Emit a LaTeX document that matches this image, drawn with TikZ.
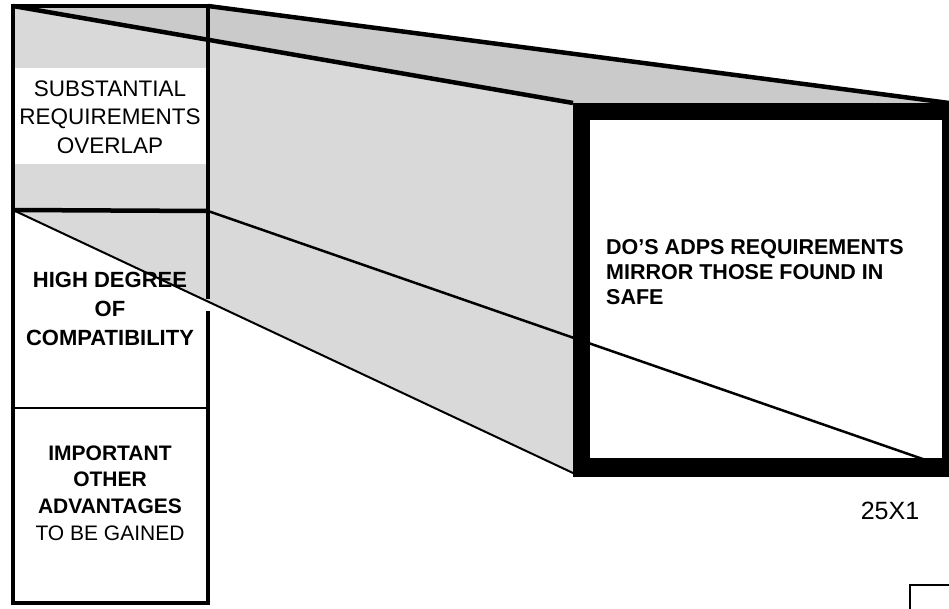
\documentclass[tikz,border=0pt]{standalone}
\usepackage{fontspec}
\setmainfont{Liberation Sans}
\usetikzlibrary{positioning,calc}
\definecolor{dotgrey}{HTML}{D9D9D9}
\definecolor{dotdark}{HTML}{CACACA}

\begin{document}
\begin{tikzpicture}[x=1pt,y=-1pt,
  every node/.style={inner sep=0pt},
  colline/.style={line width=3.5pt,line cap=rect},
  heavyline/.style={line width=4.5pt},
  thinline/.style={line width=2pt},
  halftone/.style={fill=dotgrey},
  plaintxt/.style={align=center,font=\fontsize{22.5}{28.5}\selectfont},
  boldtxt/.style={align=center,font=\fontsize{22}{29}\selectfont\bfseries}]
\useasboundingbox (0,0) rectangle (949,609);
% corners of the left column
\coordinate (ltl) at (13,6);
\coordinate (ltr) at (208,6);
\coordinate (lbl) at (13,210);
\coordinate (lbr) at (208,211);
\coordinate (gapt) at (208,297);
\coordinate (gapb) at (208,313);
% corners of the big box
\coordinate (rtl) at (573,103);
\coordinate (rtr) at (949,103);
\coordinate (rbl) at (573,473);
\coordinate (rbr) at (940,465);

% projection band
\fill[halftone] (ltl) -- (ltr) -- (rtr) -- (rtl) -- (rbl) -- (lbl) -- cycle;
\fill[dotdark] (ltl) -- (ltr) -- (rtr) -- (rtl) -- cycle;
\fill[white] (14,68) rectangle (206,164);

% big box
\fill (rtl) rectangle (951,477);
\fill[white] (590,120) rectangle (942,458);

\draw[heavyline] (ltl) -- (rtl);
\draw[heavyline] (ltr) -- (rtr);
\draw[thinline] (lbl) -- (rbl);
\draw[line width=2.5pt] (lbr) -- (rbr);

% left column
\draw[colline] (gapt) -- (ltr) -- (ltl) -- (13,603) -- (208,603) -- (gapb);
\draw[heavyline] (lbl) -- (lbr);
\draw[thinline] (13,408) -- (208,408);

\node[plaintxt] (overlap) at (110,117) {SUBSTANTIAL\\REQUIREMENTS\\OVERLAP};
\node[boldtxt] (compat) at (110,309) {HIGH DEGREE\\OF\\COMPATIBILITY};
\node[plaintxt,font=\fontsize{21}{26.7}\selectfont] (gains) at (110,493)
  {\textbf{IMPORTANT}\\\textbf{OTHER}\\\textbf{ADVANTAGES}\\TO BE GAINED};
\node[anchor=west,align=left,font=\fontsize{21.5}{25}\selectfont\bfseries] (mirror) at (606,272)
  {DO'S ADPS REQUIREMENTS\\MIRROR THOSE FOUND IN\\SAFE};
\node[font=\fontsize{25}{30}\selectfont] (stamp) at (890,511) {25X1};

% corner of the stamp box
\draw[thinline] (910,611) -- (910,585) -- (951,585);
\end{tikzpicture}
\end{document}
